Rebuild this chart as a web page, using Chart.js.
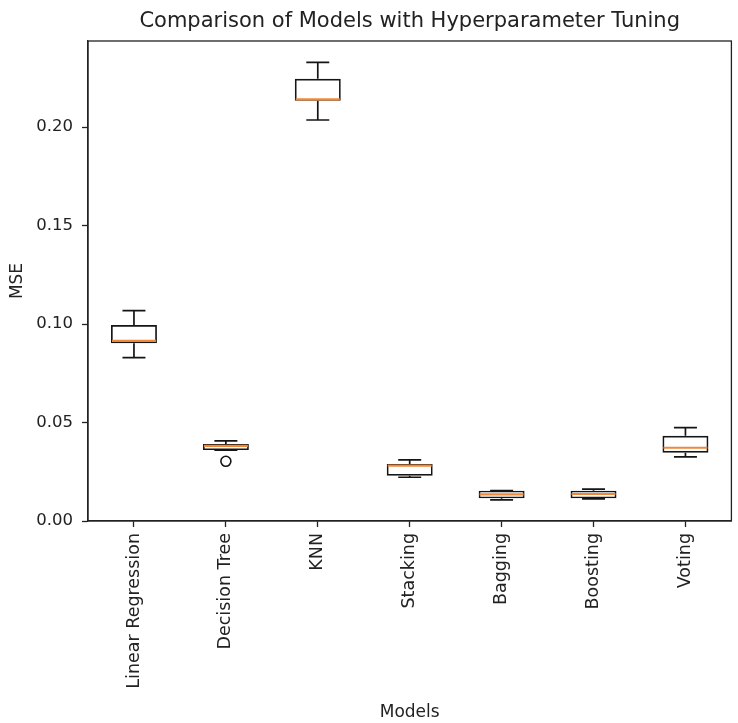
<!DOCTYPE html>
<html>
<head>
<meta charset="utf-8">
<script src="https://cdn.jsdelivr.net/npm/chart.js@4"></script>
<style>
  html, body { margin: 0; padding: 0; background: #ffffff; }
  #wrap { width: 738px; height: 723px; position: relative; }
</style>
</head>
<body>
<div id="wrap"><canvas id="c" width="738" height="723"></canvas></div>
<script>
// ---- data ----
const categories   = ['Linear Regression', 'Decision Tree', 'KNN', 'Stacking', 'Bagging', 'Boosting', 'Voting'];
const whiskerLow   = [0.0829, 0.0360, 0.2036, 0.0222, 0.0107, 0.0112, 0.0326];
const q1Values     = [0.0902, 0.0360, 0.2134, 0.0230, 0.0115, 0.0115, 0.0347];
const medianValues = [0.0915, 0.0381, 0.2141, 0.0281, 0.0135, 0.0137, 0.0372];
const q3Values     = [0.0995, 0.0391, 0.2245, 0.0289, 0.0154, 0.0154, 0.0433];
const whiskerHigh  = [0.1068, 0.0407, 0.2328, 0.0310, 0.0154, 0.0162, 0.0474];
const outlierValues = [null, 0.0303, null, null, null, null, null];
const yTickStep = 0.05;
const yMin = 0.0;
const yMax = 0.2437;

const TEXT = '#222222';
const FONT = "'DejaVu Sans', sans-serif";

const boxData = categories.map((c, i) => [q1Values[i], q3Values[i]]);

const boxPlugin = {
  id: 'boxParts',
  afterDatasetsDraw(chart) {
    const ctx = chart.ctx;
    const xs = chart.scales.x, ys = chart.scales.y;
    const meta = chart.getDatasetMeta(0);
    ctx.save();
    for (let i = 0; i < categories.length; i++) {
      const x = xs.getPixelForValue(i);
      const bw = meta.data[i] ? meta.data[i].width : 46;
      const yLo = ys.getPixelForValue(whiskerLow[i]);
      const yQ1 = ys.getPixelForValue(q1Values[i]);
      const yQ3 = ys.getPixelForValue(q3Values[i]);
      const yHi = ys.getPixelForValue(whiskerHigh[i]);
      const yMed = ys.getPixelForValue(medianValues[i]);
      ctx.strokeStyle = '#151515';
      ctx.lineWidth = 1.7;
      ctx.beginPath();
      ctx.moveTo(x, yQ1); ctx.lineTo(x, yLo);
      ctx.moveTo(x, yQ3); ctx.lineTo(x, yHi);
      ctx.moveTo(x - bw / 4, yLo); ctx.lineTo(x + bw / 4, yLo);
      ctx.moveTo(x - bw / 4, yHi); ctx.lineTo(x + bw / 4, yHi);
      ctx.stroke();
      ctx.strokeStyle = '#f0883a';
      ctx.lineWidth = 2.2;
      ctx.beginPath();
      ctx.moveTo(x - bw / 2 + 1, yMed); ctx.lineTo(x + bw / 2 - 1, yMed);
      ctx.stroke();
    }
    // full frame (top/right spines)
    const a = chart.chartArea;
    ctx.strokeStyle = '#222222';
    ctx.lineWidth = 1.3;
    ctx.strokeRect(a.left, a.top, a.right - a.left, a.bottom - a.top);
    ctx.restore();
  }
};

new Chart(document.getElementById('c'), {
  type: 'bar',
  data: {
    labels: categories,
    datasets: [
      {
        type: 'bar',
        data: boxData,
        backgroundColor: 'rgba(255,255,255,0)',
        borderColor: '#151515',
        borderWidth: 1.7,
        borderSkipped: false,
        barPercentage: 0.5,
        categoryPercentage: 1.0,
        order: 2
      },
      {
        type: 'line',
        data: outlierValues,
        showLine: false,
        pointStyle: 'circle',
        pointRadius: 5,
        pointBorderWidth: 1.6,
        pointBorderColor: '#151515',
        pointBackgroundColor: 'rgba(255,255,255,0)',
        order: 1
      }
    ]
  },
  options: {
    responsive: false,
    animation: false,
    layout: { padding: { left: 0, right: 3, top: 0, bottom: 0 } },
    plugins: {
      legend: { display: false },
      tooltip: { enabled: false },
      title: {
        display: true,
        fullSize: false,
        text: 'Comparison of Models with Hyperparameter Tuning',
        color: TEXT,
        font: { family: FONT, size: 21, weight: 'normal', lineHeight: 1.2 },
        padding: { top: 9.4, bottom: 6.4 }
      }
    },
    scales: {
      x: {
        type: 'category',
        offset: true,
        grid: { display: true, offset: false, drawOnChartArea: false, drawTicks: true, tickLength: 6, tickColor: '#222222', color: '#222222', tickWidth: 1.3 },
        border: { display: true, color: '#222222', width: 1.3 },
        ticks: {
          color: TEXT, font: { family: FONT, size: 17.5 },
          maxRotation: 90, minRotation: 90, padding: 6, autoSkip: false
        },
        title: {
          display: true, text: 'Models', color: TEXT,
          font: { family: FONT, size: 17, lineHeight: 1.2 },
          padding: { top: 4, bottom: 0 }
        },
        afterFit(scale) { scale.height = 202; }
      },
      y: {
        type: 'linear',
        min: yMin,
        max: yMax,
        grid: { display: true, drawOnChartArea: false, drawTicks: true, tickLength: 6, tickColor: '#222222', color: '#222222', tickWidth: 1.3 },
        border: { display: true, color: '#222222', width: 1.3 },
        ticks: {
          color: TEXT, font: { family: FONT, size: 16.5 },
          stepSize: yTickStep, includeBounds: false, padding: 9,
          callback: (v) => Number(v).toFixed(2)
        },
        title: {
          display: true, text: 'MSE', color: TEXT,
          font: { family: FONT, size: 17, lineHeight: 1.2 },
          padding: { top: 7, bottom: 0 }
        },
        afterFit(scale) { scale.width = 88; }
      }
    }
  },
  plugins: [boxPlugin]
});
</script>
</body>
</html>
